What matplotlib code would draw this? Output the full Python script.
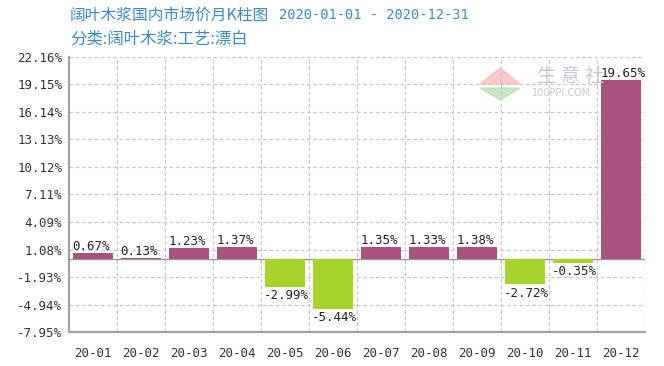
import numpy as np
import matplotlib.pyplot as plt
from matplotlib.patches import Polygon
from matplotlib.ticker import FixedLocator

plt.rcParams['font.family'] = ['Noto Sans CJK SC', 'DejaVu Sans']

months = ['20-01', '20-02', '20-03', '20-04', '20-05', '20-06',
          '20-07', '20-08', '20-09', '20-10', '20-11', '20-12']
changes = [0.67, 0.13, 1.23, 1.37, -2.99, -5.44, 1.35, 1.33, 1.38, -2.72, -0.35, 19.65]
yticks = [-7.95, -4.94, -1.93, 1.08, 4.09, 7.11, 10.12, 13.13, 16.14, 19.15, 22.16]

up_color = '#A8527E'
down_color = '#A6D42A'
title_color = '#3A8CC0'
mono = ['DejaVu Sans Mono', 'Noto Sans CJK SC']

fig = plt.figure(figsize=(6.64, 3.66), dpi=100)
ax = fig.add_axes([69/664, 1 - 332/366, 576/664, 275/366])

x = np.arange(len(months))
colors = [up_color if v >= 0 else down_color for v in changes]
w = 0.83
ax.bar(x, changes, width=w, color=colors, zorder=3)

for xi, v in zip(x, changes):
    if v >= 0:
        ax.text(xi - w/2 - 0.02, v, '%.2f%%' % v, ha='left', va='bottom',
                fontsize=9, family=mono, color='#222222', zorder=4)
    else:
        ax.text(xi - w/2 - 0.02, v - 0.25, '%.2f%%' % v, ha='left', va='top',
                fontsize=9, family=mono, color='#222222', zorder=4)

ax.set_xlim(-0.5, len(months) - 0.5)
ax.set_ylim(yticks[0], yticks[-1])
ax.yaxis.set_major_locator(FixedLocator(yticks))
ax.set_yticklabels(['%.2f%%' % t for t in yticks])
ax.set_xticks(x)
ax.set_xticklabels(months)
ax.tick_params(axis='both', length=0, labelsize=9, colors='#333333')
ax.tick_params(axis='y', pad=5)
ax.tick_params(axis='x', pad=11)
for lbl in ax.get_xticklabels() + ax.get_yticklabels():
    lbl.set_family(mono)

# dashed grid
for t in yticks[1:]:
    ax.axhline(t, color='#c8c8c8', lw=0.9, ls=(0, (3, 2)), zorder=1)
for b in np.arange(0.5, len(months), 1.0):
    ax.axvline(b, color='#c8c8c8', lw=0.9, ls=(0, (3, 2)), zorder=1)
ax.axhline(0, color='#999999', lw=1.0, zorder=2)

for s in ['top', 'right']:
    ax.spines[s].set_visible(False)
for s in ['left', 'bottom']:
    ax.spines[s].set_color('#a0a0a0')
    ax.spines[s].set_linewidth(1.5)

# watermark
fig.patches.append(Polygon([[500/664, 1-68/366], [520/664, 1-84/366], [480/664, 1-84/366]],
                           closed=True, transform=fig.transFigure, color='#f4b5b5', alpha=0.7))
fig.patches.append(Polygon([[480/664, 1-88/366], [520/664, 1-88/366], [500/664, 1-100/366]],
                           closed=True, transform=fig.transFigure, color='#b5dcb0', alpha=0.7))
fig.text(537/664, 1 - 76/366, '生 意 社', fontsize=14, color='#c4cbd6', va='center', ha='left')
fig.text(532/664, 1 - 93/366, '100PPI.COM', fontsize=7, color='#c8c8c8', va='center', ha='left',
         family='DejaVu Sans')

fig.text(70/664, 1 - 15/366, '阔叶木浆国内市场价月K柱图',
         fontsize=11.3, color=title_color, va='center', ha='left')
fig.text(279/664, 1 - 15/366, '2020-01-01 - 2020-12-31',
         fontsize=9.8, color=title_color, va='center', ha='left', family=mono)
fig.text(70/664, 1 - 39/366, '分类:阔叶木浆:工艺:漂白',
         fontsize=11.8, color=title_color, va='center', ha='left')

fig.savefig('out.png', dpi=100)
